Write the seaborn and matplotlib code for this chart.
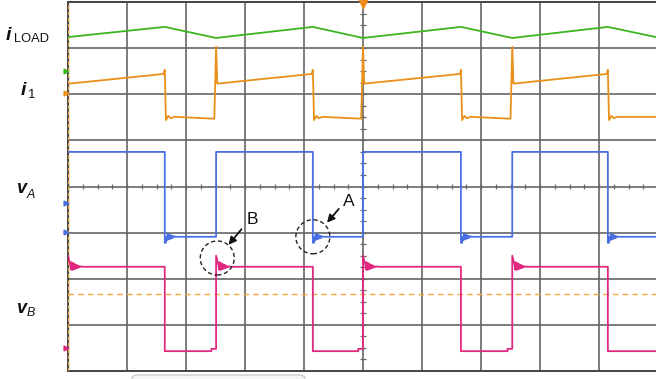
import numpy as np
import pandas as pd
import matplotlib
matplotlib.use('Agg')
import matplotlib.pyplot as plt
import seaborn as sns
from matplotlib.patches import Ellipse, FancyBboxPatch

# screen is 10 x 8 divisions, values below are read in divisions
rise_times = [0.0, 2.51, 5.0, 7.53]
fall_times = [1.64, 4.15, 6.66, 9.15]
t_end = 10.0

# i_LOAD (green)
iload_low = 7.22
iload_high = 7.46
iload_first = 7.24
iload_last = 7.23

# i_1 (orange)
i1_after_rise = 6.23
i1_peak = 6.44
i1_spike_fall = 6.53
i1_dip = 5.44
i1_low = 5.51
i1_spike_rise = 7.03

# v_A (blue): ringing after each falling edge
va_high = 4.75
va_low = 2.91
va_ring_dt = [0.0, 0.02, 0.03, 0.04, 0.05, 0.06, 0.07, 0.08, 0.09, 0.10,
              0.11, 0.12, 0.13, 0.14, 0.16, 0.18]
va_ring = [2.78, 2.78, 2.91, 2.84, 2.98, 2.85, 2.96, 2.86, 2.95, 2.87,
           2.94, 2.88, 2.93, 2.89, 2.92, 2.91]

# v_B (pink): ringing after each rising edge
vb_high = 2.26
vb_low = 0.43
vb_step = 0.48
vb_ring_dt = [0.0, 0.04, 0.05, 0.06, 0.07, 0.08, 0.09, 0.10, 0.11, 0.12,
              0.13, 0.14, 0.15, 0.16, 0.17, 0.18, 0.20, 0.22, 0.25]
vb_ring = [2.50, 2.30, 2.20, 2.36, 2.19, 2.34, 2.20, 2.33, 2.21, 2.31,
           2.22, 2.30, 2.23, 2.29, 2.24, 2.28, 2.25, 2.27, 2.26]

trigger_level = 1.67
ground_marks = {'#3cb521': [6.51], '#e8901a': [6.03],
                '#4a6fe0': [3.64, 3.02], '#e0287f': [0.50]}


def trace_iload():
    pts = [(0.0, iload_first)]
    for k, f in enumerate(fall_times):
        pts.append((f, iload_high))
        if k + 1 < len(rise_times):
            pts.append((rise_times[k + 1], iload_low))
    pts.append((t_end, iload_last))
    return pts


def trace_i1():
    pts = []
    for k, r in enumerate(rise_times):
        if k > 0:
            pts += [(r - 0.03, i1_dip + 0.03), (r, i1_spike_rise)]
        pts.append((r + 0.02, i1_after_rise))
        f = fall_times[k]
        pts += [(f - 0.02, i1_peak), (f, i1_spike_fall), (f + 0.02, i1_dip),
                (f + 0.06, i1_low + 0.02), (f + 0.1, i1_low - 0.03), (f + 0.16, i1_low)]
    pts.append((t_end, i1_low))
    return pts


def trace_va():
    pts = [(0.0, va_high)]
    for k, f in enumerate(fall_times):
        pts.append((f, va_high))
        for dt, v in zip(va_ring_dt, va_ring):
            pts.append((f + dt, v))
        if k + 1 < len(rise_times):
            r = rise_times[k + 1]
            pts += [(r, va_low), (r, va_high)]
    pts.append((t_end, va_low))
    return pts


def trace_vb():
    pts = []
    for k, r in enumerate(rise_times):
        if k > 0:
            pts += [(r - 0.08, vb_low), (r - 0.08, vb_step), (r, vb_step)]
        for dt, v in zip(vb_ring_dt, vb_ring):
            pts.append((r + dt, v))
        f = fall_times[k]
        pts += [(f, vb_high), (f, vb_low)]
    pts.append((t_end, vb_low))
    return pts


traces = [(trace_iload(), '#3cb521'), (trace_i1(), '#e8901a'),
          (trace_va(), '#4a6fe0'), (trace_vb(), '#e0287f')]

sns.set_style('white')
plt.rcParams['font.family'] = ['Liberation Sans', 'DejaVu Sans']

fig = plt.figure(figsize=(6.56, 3.79), dpi=100)
W, H = 656, 379
ax = fig.add_axes([68 / W, 8 / H, 590 / W, 369 / H])
ax.set_xlim(0, 10)
ax.set_ylim(0, 8)
ax.set_xticks([])
ax.set_yticks([])

grid_col = '#666666'
for x in range(1, 10):
    ax.axvline(x, color=grid_col, lw=1.2, zorder=1)
for y in range(1, 8):
    ax.axhline(y, color=grid_col, lw=1.2, zorder=1)
for s in ax.spines.values():
    s.set_color('#444444')
    s.set_linewidth(1.4)

# minor ticks on the centre lines
xt = np.arange(0, 10.01, 0.25)
yt = np.arange(0, 8.01, 0.25)
ax.vlines(xt, 4 - 0.045, 4 + 0.045, color=grid_col, lw=0.9, zorder=1)
ax.hlines(yt, 5 - 0.05, 5 + 0.05, color=grid_col, lw=0.9, zorder=1)

# trigger level and left border marker
ax.axhline(trigger_level, color='#f2a83a', lw=1.0, ls=(0, (4, 3)), zorder=2)
ax.axvline(0.0, color='#3a3a3a', lw=1.6, zorder=2)
ax.axvline(0.0, color='#f0a030', lw=0.9, ls=(0, (3, 2)), zorder=3)

for pts, col in traces:
    df = pd.DataFrame(pts, columns=['t', 'v'])
    sns.lineplot(data=df, x='t', y='v', estimator=None, sort=False,
                 color=col, lw=1.3, ax=ax, zorder=4)
ax.set_xlabel('')
ax.set_ylabel('')

for col, ys in ground_marks.items():
    ax.plot([-0.03] * len(ys), ys, marker='>', ls='none', ms=3.5,
            color=col, clip_on=False, zorder=5)
ax.plot([5.0], [7.97], marker='v', ms=7, color='#f08a1c', clip_on=False, zorder=6)

# dashed circles and arrows
for cx, cy in [(4.15, 2.91), (2.53, 2.45)]:
    ax.add_patch(Ellipse((cx, cy), 34 / 59, 34 / 46.1, fill=False, ec='#222222',
                         lw=1.0, ls=(0, (3, 2)), zorder=6))
ax.annotate('', xy=(4.36, 3.17), xytext=(4.62, 3.56),
            arrowprops=dict(arrowstyle='-|>', color='#111111', lw=1.3, mutation_scale=11))
ax.annotate('', xy=(2.69, 2.69), xytext=(2.97, 3.12),
            arrowprops=dict(arrowstyle='-|>', color='#111111', lw=1.3, mutation_scale=11))
ax.text(4.76, 3.67, 'A', fontsize=12.5, ha='center', va='center', color='#111111')
ax.text(3.12, 3.28, 'B', fontsize=12.5, ha='center', va='center', color='#111111')


def ftext(px, py, s, **kw):
    fig.text(px / W, 1 - py / H, s, ha='left', va='baseline', color='#111111', **kw)


ftext(6, 40, 'i', fontsize=14, fontweight='bold', fontstyle='italic')
ftext(14, 42, 'LOAD', fontsize=9.3)
ftext(21, 95, 'i', fontsize=14, fontweight='bold', fontstyle='italic')
ftext(28, 98, '1', fontsize=9.5)
ftext(16, 193, 'v', fontsize=13, fontweight='bold', fontstyle='italic')
ftext(27, 198, 'A', fontsize=9, fontstyle='italic')
ftext(16, 313, 'v', fontsize=13, fontweight='bold', fontstyle='italic')
ftext(27, 316, 'B', fontsize=9, fontstyle='italic')

# bits of the scope window under the screen
fig.patches.append(FancyBboxPatch((132 / W, -4 / H), 173 / W, 8 / H,
                                  boxstyle='round,pad=0,rounding_size=0.01',
                                  transform=fig.transFigure, fc='#f6f6f6',
                                  ec='#c4c4c4', lw=0.8))

fig.savefig('out.png', dpi=100)
